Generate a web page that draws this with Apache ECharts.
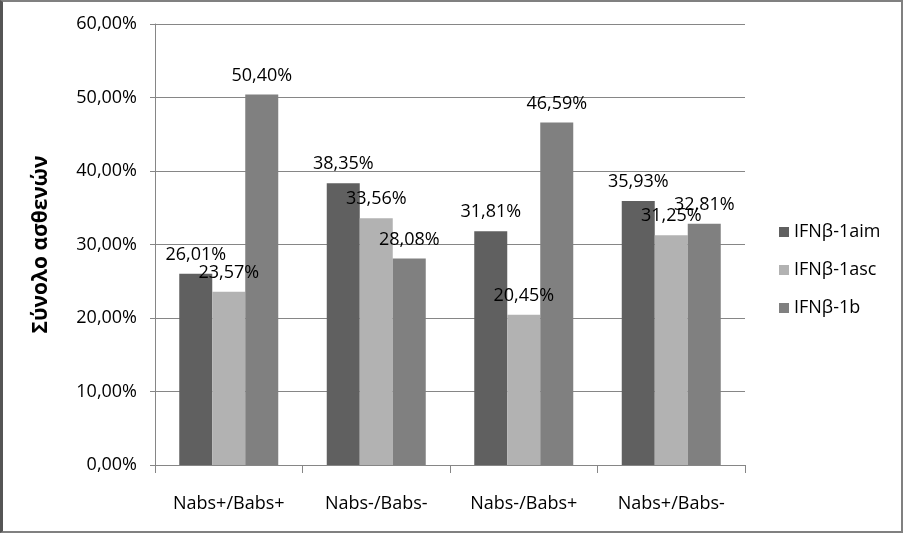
<!DOCTYPE html>
<html>
<head>
<meta charset="utf-8">
<script src="https://cdn.jsdelivr.net/npm/echarts@6/dist/echarts.min.js"></script>
<style>
html,body{margin:0;padding:0;background:#fff;}
#c{position:absolute;left:0;top:0;width:903px;height:533px;}
#frame{position:absolute;left:0;top:0;width:903px;height:533px;box-sizing:border-box;border:2px solid #808080;border-left:3px solid #555;pointer-events:none;}
</style>
</head>
<body>
<div id="c"></div>
<div id="frame"></div>
<script>
var categories = ['Nabs+/Babs+', 'Nabs-/Babs-', 'Nabs-/Babs+', 'Nabs+/Babs-'];
var seriesNames = ['IFNβ-1aim', 'IFNβ-1asc', 'IFNβ-1b'];
var valuesAim = [26.01, 38.35, 31.81, 35.93];
var valuesAsc = [23.57, 33.56, 20.45, 31.25];
var valuesB = [50.40, 28.08, 46.59, 32.81];
var yTicks = [0, 10, 20, 30, 40, 50, 60];
var colors = ['#606060', '#b2b2b2', '#808080'];
var FONT = '"Open Sans", "Noto Sans", sans-serif';

function fmt(v) { return v.toFixed(2).replace('.', ',') + '%'; }

var seriesData = [valuesAim, valuesAsc, valuesB];
var chart = echarts.init(document.getElementById('c'), null, {renderer: 'canvas'});
chart.setOption({
  animation: false,
  backgroundColor: '#fff',
  textStyle: {fontFamily: FONT},
  grid: {left: 155, right: 158, top: 24, bottom: 68, containLabel: false},
  legend: {
    orient: 'vertical',
    left: 774,
    top: 218,
    itemWidth: 10,
    itemHeight: 10,
    itemGap: 20,
    icon: 'rect',
    data: seriesNames,
    textStyle: {fontSize: 18, color: '#000', fontFamily: FONT, padding: [0, 0, 0, 0]}
  },
  xAxis: {
    type: 'category',
    data: categories,
    axisLine: {lineStyle: {color: '#868686', width: 1}},
    axisTick: {show: true, length: 8, lineStyle: {color: '#868686'}},
    axisLabel: {fontSize: 18, color: '#000', margin: 30, fontFamily: FONT}
  },
  yAxis: {
    type: 'value',
    min: yTicks[0],
    max: yTicks[yTicks.length - 1],
    interval: 10,
    name: 'Σύνολο ασθενών',
    nameLocation: 'middle',
    nameRotate: 90,
    nameGap: 103,
    nameTextStyle: {fontSize: 21, fontWeight: 'bold', color: '#000', fontFamily: FONT},
    axisLine: {show: true, lineStyle: {color: '#868686', width: 1}},
    axisTick: {show: true, length: 5, lineStyle: {color: '#868686'}},
    axisLabel: {fontSize: 18, color: '#000', margin: 18, formatter: fmt, fontFamily: FONT},
    splitLine: {show: true, lineStyle: {color: '#868686', width: 1}}
  },
  series: seriesNames.map(function (n, i) {
    return {
      name: n,
      type: 'bar',
      data: seriesData[i],
      barWidth: 33,
      barGap: 0,
      itemStyle: {color: colors[i]},
      label: {
        show: true,
        position: 'top',
        distance: 10,
        fontSize: 18,
        color: '#000',
        fontFamily: FONT,
        formatter: function (p) { return fmt(p.value); }
      }
    };
  })
});
</script>
</body>
</html>
